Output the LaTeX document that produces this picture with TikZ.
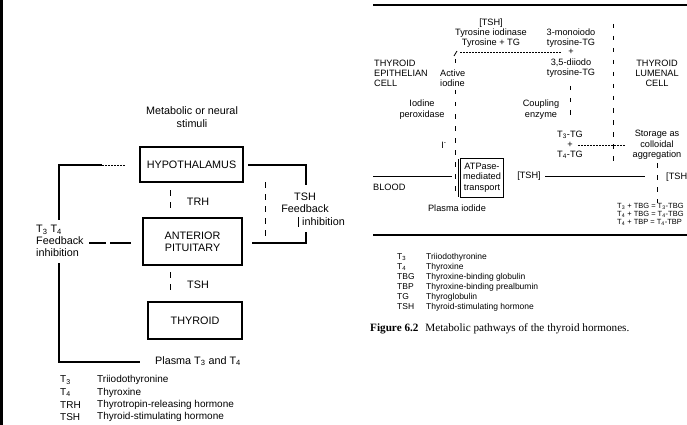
\documentclass[tikz,border=0pt]{standalone}
\usepackage{fontspec}
\setmainfont{Liberation Sans}
\newfontfamily\capserif{Liberation Serif}
\newcommand\Tsb[1]{T\textsubscript{#1}}
\begin{document}
\begin{tikzpicture}[x=1pt,y=-1pt,
  lf/.style={font=\fontsize{10.8}{12.3}\selectfont, inner sep=0pt, align=center},
  lg/.style={font=\fontsize{10}{12.3}\selectfont, inner sep=0pt, anchor=west},
  rf/.style={font=\fontsize{9.2}{10.3}\selectfont, inner sep=0pt, align=center},
  rg/.style={font=\fontsize{8.5}{10}\selectfont, inner sep=0pt, anchor=west},
  ef/.style={font=\fontsize{7.5}{8}\selectfont, inner sep=0pt, align=left},
  box/.style={lf, draw, line width=1.3pt},
  conn/.style={line width=1.3pt},
  thinln/.style={line width=0.8pt},
  ldash/.style={line width=0.9pt, dash pattern=on 6pt off 6pt},
  rdash/.style={line width=0.8pt, dash pattern=on 4.5pt off 7.5pt},
  ldot/.style={line width=0.6pt, dash pattern=on 1.5pt off 1.5pt},
  rule/.style={line width=1.3pt}]
\useasboundingbox (0,0) rectangle (687,425);
\clip (0,0) rectangle (687,425);
\fill[black] (0,0) rectangle (3,425);

% ---------------- left diagram ----------------
\node[lf] (stim) at (192,117) {Metabolic or neural\\stimuli};
\node[box, minimum width=103, minimum height=35] (hyp) at (191.5,164.5) {HYPOTHALAMUS};
\node[box, minimum width=99, minimum height=47] (ant) at (192.5,241.5) {ANTERIOR\\PITUITARY};
\node[box, minimum width=94, minimum height=37] (thy) at (195,320.5) {THYROID};

\coordinate (trhA) at (170,190); \coordinate (trhB) at (170,213);
\draw[ldash] (trhA) -- (trhB);
\node[lf] (trh) at (198,202) {TRH};
\coordinate (tshA) at (170,272); \coordinate (tshB) at (170,295);
\draw[ldash] (tshA) -- (tshB);
\node[lf] (tsh) at (198,285) {TSH};

% left feedback loop
\coordinate (lA) at (102,165); \coordinate (lB) at (59,165); \coordinate (lC) at (59,220);
\coordinate (lD) at (126,165);
\draw[conn] (lA) -- (lB) -- (lC);
\draw[ldot] (lA) -- (lD);
\node[lf, align=left, anchor=west] (fbL) at (36,241) {\Tsb3 \Tsb4\\Feedback\\inhibition};
\coordinate (fA) at (89,243); \coordinate (fB) at (106,243);
\coordinate (fC) at (110,243); \coordinate (fD) at (131,243);
\draw[conn] (fA) -- (fB);
\draw[conn] (fC) -- (fD);
\coordinate (lE) at (59,263); \coordinate (lF) at (59,362); \coordinate (lG) at (140,362);
\draw[conn] (lE) -- (lF) -- (lG);
\node[lf, anchor=west] (plasma) at (155,361) {Plasma \Tsb3 and \Tsb4};

% right feedback loop
\coordinate (rA) at (248,165); \coordinate (rB) at (306,165); \coordinate (rC) at (306,185);
\draw[conn] (rA) -- (rB) -- (rC);
\node[lf] (tshfb) at (305,203) {TSH\\Feedback};
\node[lf, anchor=west] (inh) at (302,222) {inhibition};
\coordinate (iA) at (298,217); \coordinate (iB) at (298,227);
\draw[thinln] (iA) -- (iB);
\coordinate (rD) at (306,232); \coordinate (rE) at (306,243); \coordinate (rF) at (252,243);
\draw[conn] (rD) -- (rE) -- (rF);
\coordinate (qA) at (265,182); \coordinate (qB) at (265,240);
\draw[ldash] (qA) -- (qB);

% left legend
\node[lg] (lg1a) at (60,380) {\Tsb3};
\node[lg] (lg1b) at (97,380) {Triiodothyronine};
\node[lg] (lg2a) at (60,392.5) {\Tsb4};
\node[lg] (lg2b) at (97,392.5) {Thyroxine};
\node[lg] (lg3a) at (60,405) {TRH};
\node[lg] (lg3b) at (97,405) {Thyrotropin-releasing hormone};
\node[lg] (lg4a) at (60,417) {TSH};
\node[lg] (lg4b) at (97,417) {Thyroid-stimulating hormone};

% ---------------- right diagram ----------------
\coordinate (tr1) at (373,5); \coordinate (tr2) at (687,5);
\draw[rule] (tr1) -- (tr2);
\node[rf] (tshT) at (491,23) {[TSH]};
\node[rf] (tyr) at (491,38) {Tyrosine iodinase\\Tyrosine + TG};
\node[rf] (mono) at (571,38) {3-monoiodo\\tyrosine-TG};
\node[rf] (plus1) at (571,52) {+};
\node[rf] (diio) at (571,68) {3,5-diiodo\\tyrosine-TG};
\node[rf, align=left, anchor=west] (epi) at (374,73.5) {THYROID\\EPITHELIAN\\CELL};
\node[rf, align=left, anchor=west] (act) at (440,78.5) {Active\\iodine};
\node[rf] (perox) at (422,109.5) {Iodine\\peroxidase};
\node[rf] (coup) at (541,109.5) {Coupling\\enzyme};
\node[rf] (lum) at (657,73.5) {THYROID\\LUMENAL\\CELL};
\node[rf] (iod) at (444,145) {I\textsuperscript{-}};
\node[rf] (t3tg) at (570,135) {\Tsb3-TG};
\node[rf] (pl2) at (570,145) {+};
\node[rf] (t4tg) at (570,155) {\Tsb4-TG};
\node[rf] (stor) at (657,145) {Storage as\\colloidal\\aggregation};
\node[rf, draw, line width=0.8pt, minimum width=43, minimum height=39] (atp) at (482,177.5) {ATPase-\\mediated\\transport};
\node[rf, anchor=west] (blood) at (373,187) {BLOOD};
\node[rf] (piod) at (457,208) {Plasma iodide};
\node[rf] (tshM) at (529,176) {[TSH]};
\node[rf, anchor=west] (tshR) at (666,177) {[TSH};
\node[ef, anchor=west] (eqs) at (617,214) {\Tsb3 + TBG = \Tsb3-TBG\\\Tsb4 + TBG = \Tsb4-TBG\\\Tsb4 + TBP = \Tsb4-TBP};

\coordinate (s1) at (454,56); \coordinate (s2) at (457,51);
\draw[thinln] (s1) -- (s2);
\coordinate (s3) at (460,52); \coordinate (s4) at (562,52);
\draw[ldot] (s3) -- (s4);
\coordinate (a1) at (455,59); \coordinate (a2) at (455,66);
\draw[rdash] (a1) -- (a2);
\coordinate (a3) at (455,90); \coordinate (a4) at (455,197);
\draw[rdash] (a3) -- (a4);
\coordinate (a5) at (458,159); \coordinate (a6) at (458,197);
\draw[thinln] (a5) -- (a6);
\coordinate (c1) at (570,86); \coordinate (c2) at (570,118);
\draw[rdash] (c1) -- (c2);
\coordinate (v1) at (613,24); \coordinate (v2) at (613,167);
\draw[rdash] (v1) -- (v2);
\coordinate (d1) at (578,145); \coordinate (d2) at (625,145);
\draw[ldot] (d1) -- (d2);
\coordinate (b1) at (373,176); \coordinate (b2) at (452,176);
\draw[thinln] (b1) -- (b2);
\coordinate (m1) at (545,176); \coordinate (m2) at (645,176);
\draw[thinln] (m1) -- (m2);
\coordinate (e1) at (657,163); \coordinate (e2) at (657,203);
\draw[rdash] (e1) -- (e2);

\coordinate (br1) at (373,235); \coordinate (br2) at (687,235);
\draw[rule] (br1) -- (br2);

% right legend
\node[rg] (rg1a) at (397,257) {\Tsb3};
\node[rg] (rg1b) at (426,257) {Triiodothyronine};
\node[rg] (rg2a) at (397,267) {\Tsb4};
\node[rg] (rg2b) at (426,267) {Thyroxine};
\node[rg] (rg3a) at (397,277) {TBG};
\node[rg] (rg3b) at (426,277) {Thyroxine-binding globulin};
\node[rg] (rg4a) at (397,287) {TBP};
\node[rg] (rg4b) at (426,287) {Thyroxine-binding prealbumin};
\node[rg] (rg5a) at (397,297) {TG};
\node[rg] (rg5b) at (426,297) {Thyroglobulin};
\node[rg] (rg6a) at (397,307) {TSH};
\node[rg] (rg6b) at (426,307) {Thyroid-stimulating hormone};

\node[anchor=west, inner sep=0pt, font=\capserif\fontsize{11.2}{12}\selectfont] (cap) at (370,329) {\textbf{Figure 6.2}\hspace{4pt} Metabolic pathways of the thyroid hormones.};
\end{tikzpicture}
\end{document}
